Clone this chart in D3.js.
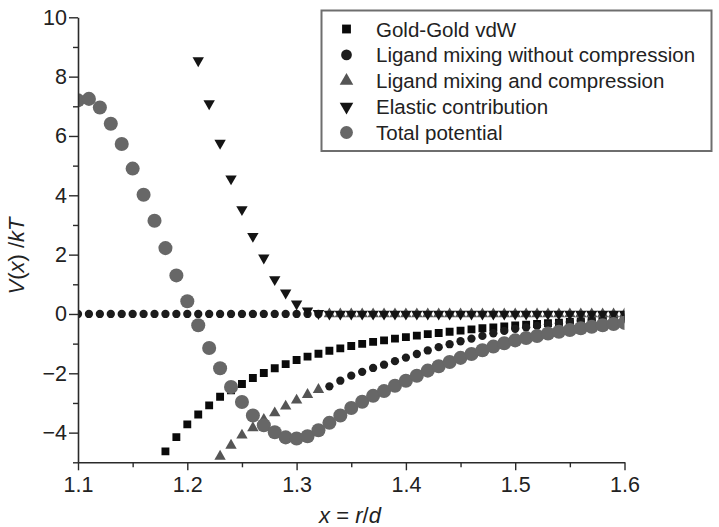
<!DOCTYPE html>
<html>
<head>
<meta charset="utf-8">
<script src="https://cdn.jsdelivr.net/npm/d3@7"></script>
<style>
  html, body { margin: 0; padding: 0; background: #fff; }
  svg { display: block; font-family: "Liberation Sans", Arial, sans-serif; }
</style>
</head>
<body>
<svg id="chart" width="719" height="527"></svg>
<script>
// ---- data ----
const xGrid = [1.10,1.11,1.12,1.13,1.14,1.15,1.16,1.17,1.18,1.19,
               1.20,1.21,1.22,1.23,1.24,1.25,1.26,1.27,1.28,1.29,
               1.30,1.31,1.32,1.33,1.34,1.35,1.36,1.37,1.38,1.39,
               1.40,1.41,1.42,1.43,1.44,1.45,1.46,1.47,1.48,1.49,
               1.50,1.51,1.52,1.53,1.54,1.55,1.56,1.57,1.58,1.59,1.60];

const goldVdW = [null,null,null,null,null,null,null,null,-4.63,-4.15,
                 -3.72,-3.39,-3.08,-2.79,-2.57,-2.36,-2.16,-1.99,-1.83,-1.69,
                 -1.55,-1.44,-1.34,-1.24,-1.16,-1.08,-1.01,-0.94,-0.89,-0.83,
                 -0.78,-0.73,-0.68,-0.64,-0.60,-0.56,-0.52,-0.48,-0.45,-0.42,
                 -0.39,-0.36,-0.34,-0.31,-0.29,-0.27,-0.25,-0.23,-0.21,-0.20,-0.18];

const mixNoCompression = [0,0,0,0,0,0,0,0,0,0,
                          0,0,0,0,0,0,0,0,0,0,
                          0,0,0,-2.44,-2.25,-2.08,-1.95,-1.82,-1.71,-1.59,
                          -1.47,-1.35,-1.23,-1.12,-1.02,-0.92,-0.83,-0.74,-0.65,-0.57,
                          -0.50,-0.45,-0.40,-0.35,-0.31,-0.27,-0.23,-0.20,-0.17,-0.14,-0.12];

const mixCompression = [null,null,null,null,null,null,null,null,null,null,
                        null,null,null,-4.80,-4.43,-4.09,-3.84,-3.56,-3.34,-3.11,
                        -2.91,-2.72,-2.55,0,0,0,0,0,0,0,
                        0,0,0,0,0,0,0,0,0,0,
                        0,0,0,0,0,0,0,0,0,0,0];

const elastic = [null,null,null,null,null,null,null,null,null,null,
                 null,8.54,7.09,5.76,4.56,3.52,2.62,1.89,1.16,0.71,
                 0.34,0.11,0.02,0,0,0,0,0,0,0,
                 0,0,0,0,0,0,0,0,0,0,
                 0,0,0,0,0,0,0,0,0,0,0];

const totalPotential = [7.20,7.25,6.96,6.41,5.73,4.90,4.02,3.14,2.22,1.30,
                        0.43,-0.38,-1.15,-1.83,-2.46,-2.97,-3.42,-3.75,-3.99,-4.16,
                        -4.20,-4.12,-3.92,-3.67,-3.42,-3.17,-2.96,-2.76,-2.60,-2.42,
                        -2.25,-2.08,-1.91,-1.76,-1.62,-1.48,-1.35,-1.22,-1.10,-0.99,
                        -0.89,-0.81,-0.74,-0.66,-0.60,-0.54,-0.48,-0.43,-0.38,-0.34,-0.30];

const seriesNames = ["Gold-Gold vdW","Ligand mixing without compression","Ligand mixing and compression","Elastic contribution","Total potential"];
const xTicks = [1.1,1.2,1.3,1.4,1.5,1.6];
const xMinorTicks = [1.15,1.25,1.35,1.45,1.55];
const yTicks = [-4,-2,0,2,4,6,8,10];
const yMinorTicks = [-5,-3,-1,1,3,5,7,9];

// ---- layout ----
const svg = d3.select("#chart");
const mLeft = 78, mRight = 624.5, mTop = 17.3, mBottom = 462.3;
const x = d3.scaleLinear().domain([1.1, 1.6]).range([mLeft, mRight]);
const y = d3.scaleLinear().domain([-5, 10]).range([mBottom, mTop]);

svg.append("defs").append("clipPath").attr("id","plotclip")
  .append("rect").attr("x", mLeft).attr("y", 0).attr("width", mRight-mLeft).attr("height", mBottom);

const styles = [
  {type: d3.symbolSquare, size: 62, fill: "#0a0a0a", rot: 0, leg: 78},
  {type: d3.symbolCircle, size: 54, fill: "#1c1c1c", rot: 0, leg: 90},
  {type: d3.symbolTriangle, size: 56, fill: "#555555", rot: 0, leg: 80},
  {type: d3.symbolTriangle, size: 56, fill: "#141414", rot: 180, leg: 80},
  {type: d3.symbolCircle, size: 155, fill: "#676767", rot: 0, leg: 130}
];
const data = [goldVdW, mixNoCompression, mixCompression, elastic, totalPotential];

const plot = svg.append("g").attr("clip-path","url(#plotclip)");
data.forEach((vals, si) => {
  const st = styles[si];
  const pts = xGrid.map((xv, i) => ({x: xv, y: vals[i]})).filter(d => d.y !== null);
  plot.append("g").selectAll("path").data(pts).join("path")
    .attr("d", d3.symbol().type(st.type).size(st.size))
    .attr("transform", d => `translate(${x(d.x)},${y(d.y)}) rotate(${st.rot})`)
    .attr("fill", st.fill);
});

// ---- axes ----
const axisColor = "#2a2a2a";
const fmtX = d3.format(".1f");
const gx = svg.append("g").attr("transform", `translate(0,${mBottom})`)
  .call(d3.axisBottom(x).tickValues(xTicks).tickFormat(fmtX).tickSize(8).tickSizeOuter(0).tickPadding(6));
const gxm = svg.append("g").attr("transform", `translate(0,${mBottom})`)
  .call(d3.axisBottom(x).tickValues(xMinorTicks).tickFormat("").tickSize(5).tickSizeOuter(0));
const gy = svg.append("g").attr("transform", `translate(${mLeft},0)`)
  .call(d3.axisLeft(y).tickValues(yTicks).tickFormat(d3.format("d")).tickSize(9).tickSizeOuter(0).tickPadding(2));
const gym = svg.append("g").attr("transform", `translate(${mLeft},0)`)
  .call(d3.axisLeft(y).tickValues(yMinorTicks).tickFormat("").tickSize(5).tickSizeOuter(0));

[gx, gxm, gy, gym].forEach(g => {
  g.selectAll("path.domain").attr("stroke", axisColor).attr("stroke-width", 1.6);
  g.selectAll(".tick line").attr("stroke", axisColor).attr("stroke-width", 1.4);
  g.selectAll(".tick text").attr("fill", "#222").style("font-size", "21.5px")
    .style("font-family", "'Liberation Sans', Arial, sans-serif");
});
gxm.select("path.domain").remove();
gym.select("path.domain").remove();
gx.selectAll(".tick text").attr("dy", "0.75em");

// ---- axis titles ----
const yTitle = svg.append("text")
  .attr("transform", "translate(24,256) rotate(-90)")
  .attr("text-anchor", "middle")
  .style("font-size", "22px").attr("fill", "#222");
yTitle.append("tspan").attr("font-style","italic").text("V");
yTitle.append("tspan").text("(");
yTitle.append("tspan").attr("font-style","italic").text("x");
yTitle.append("tspan").text(") /");
yTitle.append("tspan").attr("font-style","italic").text("kT");

const xTitle = svg.append("text")
  .attr("x", 350).attr("y", 523)
  .attr("text-anchor", "middle")
  .style("font-size", "22px").attr("fill", "#222");
xTitle.append("tspan").attr("font-style","italic").text("x");
xTitle.append("tspan").text(" = ");
xTitle.append("tspan").attr("font-style","italic").text("r");
xTitle.append("tspan").text("/");
xTitle.append("tspan").attr("font-style","italic").text("d");

// ---- legend ----
const leg = svg.append("g");
leg.append("rect").attr("x", 321.5).attr("y", 10.5).attr("width", 390).attr("height", 140.5)
  .attr("fill", "#fff").attr("stroke", "#6e6e6e").attr("stroke-width", 2);
const legRowY = d3.scaleLinear().domain([0, 4]).range([29, 132.5]);
seriesNames.forEach((name, i) => {
  const st = styles[i];
  const cy = legRowY(i);
  leg.append("path")
    .attr("d", d3.symbol().type(st.type).size(st.leg)())
    .attr("transform", `translate(346.5,${cy}) rotate(${st.rot})`)
    .attr("fill", st.fill);
  leg.append("text").attr("x", 376).attr("y", cy + 7.5)
    .style("font-size", "20.5px").attr("fill", "#222").text(name);
});
</script>
</body>
</html>
